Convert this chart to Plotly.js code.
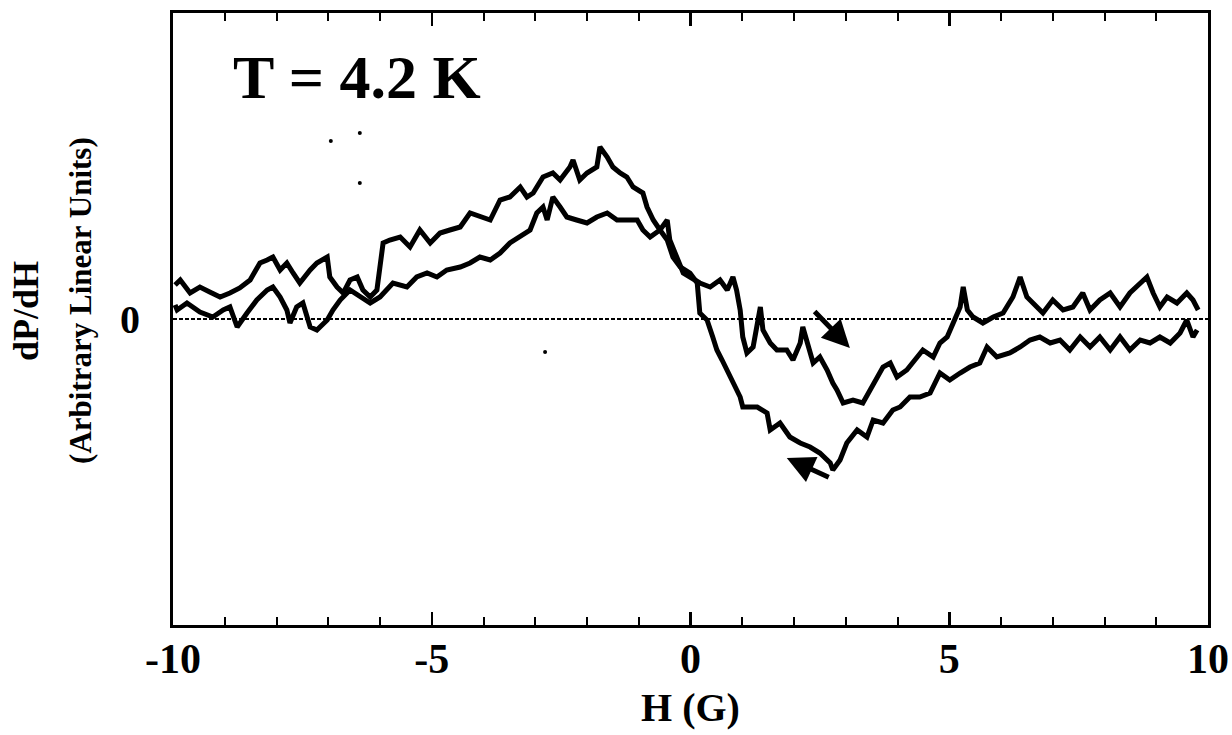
<!DOCTYPE html>
<html>
<head>
<meta charset="utf-8">
<script src="https://cdn.plot.ly/plotly-3.0.1.min.js"></script>
<style>html,body{margin:0;padding:0;background:#fff;}#chart{width:1232px;height:735px;}</style>
</head>
<body>
<div id="chart"></div>
<script>
// H (G) and dP/dH (arbitrary linear units)
const hSweepA = [-9.96,-9.86,-9.67,-9.48,-9.29,-9.09,-8.90,-8.71,-8.51,-8.32,
  -8.18,-8.07,-7.93,-7.80,-7.68,-7.55,-7.35,-7.22,-7.02,-6.97,
  -6.83,-6.71,-6.58,-6.44,-6.33,-6.19,-6.06,-6.00,-5.94,-5.81,
  -5.61,-5.42,-5.23,-5.03,-4.84,-4.65,-4.45,-4.26,-4.07,-3.87,
  -3.68,-3.49,-3.29,-3.16,-3.04,-2.85,-2.66,-2.52,-2.33,-2.27,
  -2.14,-2.00,-1.81,-1.75,-1.61,-1.50,-1.36,-1.23,-1.11,-0.92,
  -0.84,-0.72,-0.59,-0.45,-0.34,-0.20,-0.01,0.13,0.18,0.32,
  0.43,0.51,0.61,0.71,0.82,0.96,1.01,1.29,1.48,1.54,
  1.73,1.92,2.12,2.31,2.50,2.70,2.75,2.89,3.02,3.22,
  3.41,3.53,3.72,3.91,4.05,4.24,4.43,4.63,4.82,5.01,
  5.21,5.40,5.59,5.73,5.92,6.17,6.37,6.56,6.75,6.95,
  7.14,7.33,7.53,7.72,7.91,8.11,8.30,8.49,8.69,8.88,
  9.07,9.27,9.46,9.59,9.71,9.79];
const dPdHSweepA = [34,39,26,32,27,22,26,31,39,56,
  59,62,49,56,46,36,49,56,62,42,
  32,26,39,42,29,22,29,52,76,79,
  82,72,89,76,86,89,92,106,102,99,
  119,122,132,122,126,142,146,139,152,159,
  139,146,152,172,162,152,146,142,132,126,
  112,99,89,79,62,52,46,36,6,-1,
  -18,-31,-41,-51,-64,-78,-88,-88,-94,-111,
  -104,-118,-124,-128,-134,-144,-151,-141,-124,-111,
  -118,-101,-104,-91,-88,-78,-78,-74,-54,-61,
  -54,-48,-44,-28,-38,-34,-28,-21,-18,-24,
  -21,-31,-18,-28,-18,-31,-18,-31,-21,-24,
  -18,-24,-14,-1,-18,-11];

const hSweepB = [-9.96,-9.92,-9.73,-9.48,-9.23,-9.03,-8.90,-8.76,-8.57,-8.38,
  -8.18,-8.07,-7.93,-7.80,-7.74,-7.61,-7.49,-7.35,-7.22,-7.02,
  -6.91,-6.77,-6.58,-6.39,-6.19,-6.00,-5.75,-5.48,-5.29,-5.09,
  -4.90,-4.71,-4.45,-4.26,-4.07,-3.87,-3.68,-3.49,-3.29,-3.10,
  -2.97,-2.85,-2.77,-2.66,-2.52,-2.39,-2.20,-2.00,-1.81,-1.61,
  -1.42,-1.23,-1.03,-0.92,-0.78,-0.59,-0.45,-0.40,-0.26,-0.14,
  -0.01,0.18,0.38,0.57,0.71,0.82,0.89,0.96,1.01,1.09,
  1.21,1.35,1.40,1.54,1.67,1.86,1.98,2.12,2.17,2.25,
  2.37,2.50,2.64,2.75,2.83,2.95,3.14,3.33,3.47,3.60,
  3.72,3.86,3.99,4.18,4.37,4.49,4.69,4.82,4.96,5.07,
  5.21,5.27,5.35,5.46,5.65,5.85,6.04,6.23,6.37,6.50,
  6.62,6.81,7.00,7.20,7.39,7.58,7.72,7.91,8.11,8.30,
  8.49,8.69,8.82,8.94,9.07,9.21,9.40,9.59,9.71,9.81];
const dPdHSweepB = [14,9,16,7,2,9,12,-8,6,19,
  29,32,22,9,-4,12,16,-8,-11,-1,
  9,19,29,22,16,22,36,32,42,46,
  42,49,52,56,62,59,66,76,82,89,
  106,112,99,122,112,102,99,96,102,106,
  99,99,99,89,82,89,99,79,62,46,
  42,36,32,39,29,42,29,9,-18,-34,
  -28,12,-11,-24,-31,-31,-41,-24,-8,-24,
  -44,-38,-51,-64,-71,-84,-81,-84,-71,-58,
  -48,-44,-58,-51,-38,-31,-38,-24,-18,-4,
  12,32,9,2,-4,2,6,22,42,22,
  16,6,19,9,12,26,9,19,26,12,
  26,36,42,26,12,22,16,26,19,9];

// stray specks in the plot area
const hSpecks = [-6.95,-6.39,-6.39,-2.81];
const dPdHSpecks = [178,186,136,-33];

// sweep direction arrows: [tail H, tail value, head H, head value]
const arrowSweepB = [2.37, 9, 3.08, -29];
const arrowSweepA = [2.70, -159, 1.86, -139];

const xTickVals = [-10,-5,0,5,10];
const xTickText = ['-10','-5','0','5','10'];
const yTickVals = [0];
const yTickText = ['0'];
const yTitleLines = ['dP/dH', '(Arbitrary Linear Units)'];

const serif = '"Liberation Serif", "Times New Roman", Times, serif';

const traces = [
  {x: hSweepA, y: dPdHSweepA, type: 'scatter', mode: 'lines',
   line: {color: '#000', width: 5}, showlegend: false, hoverinfo: 'skip'},
  {x: hSweepB, y: dPdHSweepB, type: 'scatter', mode: 'lines',
   line: {color: '#000', width: 5}, showlegend: false, hoverinfo: 'skip'},
  {x: hSpecks, y: dPdHSpecks, type: 'scatter', mode: 'markers',
   marker: {color: '#000', size: 4}, showlegend: false, hoverinfo: 'skip'}
];

function arrowAnn(a) {
  return {x: a[2], y: a[3], ax: a[0], ay: a[1], xref: 'x', yref: 'y', axref: 'x', ayref: 'y',
    text: '', showarrow: true, arrowhead: 2, arrowsize: 1.1, arrowwidth: 5, arrowcolor: '#000'};
}

const layout = {
  width: 1232, height: 735,
  margin: {l: 173, r: 24, t: 13, b: 110},
  paper_bgcolor: '#fff', plot_bgcolor: '#fff',
  showlegend: false,
  font: {family: serif, color: '#000'},
  xaxis: {
    range: [-10, 10], tickvals: xTickVals, ticktext: xTickText,
    showline: true, linewidth: 3, linecolor: '#000', mirror: 'ticks',
    ticks: 'inside', ticklen: 13, tickwidth: 2.5, tickcolor: '#000',
    minor: {dtick: 1, tick0: 0, ticks: 'inside', ticklen: 8, tickwidth: 2, tickcolor: '#000'},
    showgrid: false, zeroline: false,
    tickfont: {family: serif, size: 42, weight: 'bold', color: '#000'},
    ticklabelstandoff: -5,
    title: {text: 'H (G)', font: {family: serif, size: 40, weight: 'bold', color: '#000'}, standoff: 12}
  },
  yaxis: {
    range: [-306, 306], tickvals: yTickVals, ticktext: yTickText,
    showline: true, linewidth: 3, linecolor: '#000', mirror: true,
    ticks: '', showgrid: false, zeroline: false,
    tickfont: {family: serif, size: 40, weight: 'bold', color: '#000'},
    ticklabelstandoff: 22
  },
  shapes: [
    {type: 'line', xref: 'paper', yref: 'y', x0: 0, x1: 1, y0: 0, y1: 0,
     line: {color: '#000', width: 2, dash: '4px,2px'}}
  ],
  annotations: [
    {xref: 'paper', yref: 'paper', x: 0.178, y: 0.895, xanchor: 'center', yanchor: 'middle',
     text: 'T = 4.2 K', showarrow: false,
     font: {family: serif, size: 62, weight: 'bold', color: '#000'}},
    {xref: 'paper', yref: 'paper', x: -0.142, y: 0.513, xanchor: 'center', yanchor: 'middle',
     text: yTitleLines[0], textangle: -90, showarrow: false,
     font: {family: serif, size: 36, weight: 'bold', color: '#000'}},
    {xref: 'paper', yref: 'paper', x: -0.090, y: 0.531, xanchor: 'center', yanchor: 'middle',
     text: yTitleLines[1], textangle: -90, showarrow: false,
     font: {family: serif, size: 31, weight: 'bold', color: '#000'}},
    arrowAnn(arrowSweepB),
    arrowAnn(arrowSweepA)
  ]
};

Plotly.newPlot('chart', traces, layout, {staticPlot: true, displayModeBar: false});
</script>
</body>
</html>
